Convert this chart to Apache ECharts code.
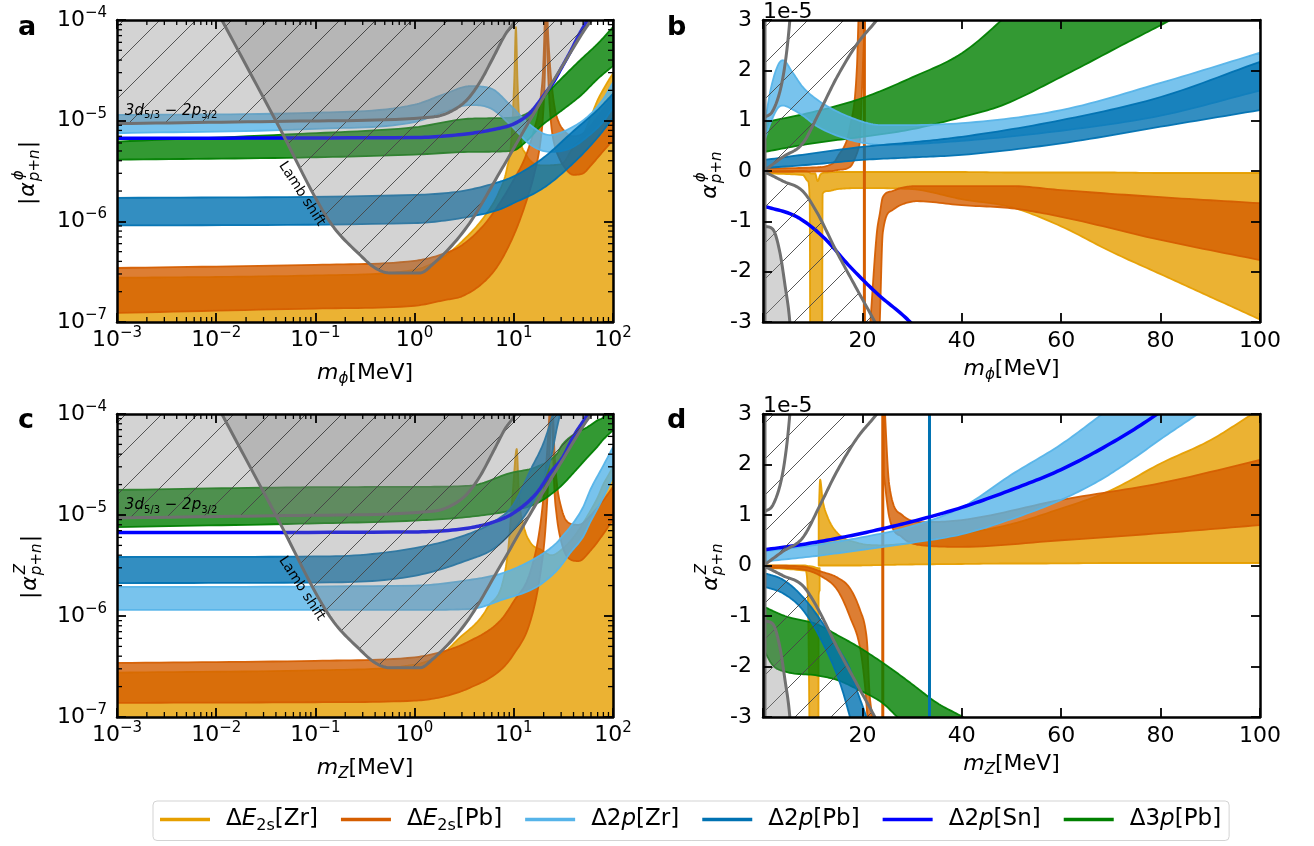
<!DOCTYPE html>
<html><head><meta charset="utf-8">
<script src="https://cdn.jsdelivr.net/npm/echarts@6/dist/echarts.min.js"></script>
<style>html,body{margin:0;padding:0;background:#fff}#c{width:1314px;height:846px}</style>
</head><body><div id="c"></div>
<script>
// ---------------- DATA ----------------
// Panel a : |alpha^phi| (log-log), [m (MeV), lower, upper]
const A_E2sZr = [[0.001,1e-9,2.75e-7],[0.01,1e-9,2.8e-7],[0.1,1e-9,2.9e-7],[1,1e-9,3.3e-7],[2,1e-9,4.5e-7],[3,1e-9,6.3e-7],[5,1e-9,1.1e-6],[7,1e-9,1.9e-6],[8.5,1e-9,3.3e-6],[9.5,1e-9,7e-6],[10.1,1e-9,2.5e-5],[10.5,1e-9,8.5e-5],[10.9,1e-9,2.5e-5],[11.5,1e-9,8e-6],[13,1e-9,4.8e-6],[20,1e-9,3.6e-6],[30,1e-9,3.7e-6],[40,1e-9,5.5e-6],[50,1e-9,7.2e-6],[60,1e-9,1.1e-5],[70,1e-9,1.6e-5],[80,1e-9,2.05e-5],[90,1e-9,2.5e-5],[100,1e-9,2.95e-5]];
const A_E2sPb_1 = [[0.001,1.23e-7,3.44e-7],[0.1,1.36e-7,3.7e-7],[1,1.45e-7,4.05e-7],[2,1.65e-7,4.8e-7],[3,1.8e-7,5.8e-7],[5,2.5e-7,9.2e-7],[7,3.7e-7,1.45e-6],[10,7.3e-7,2.6e-6],[13,1.45e-6,4.3e-6],[16,2.9e-6,8.1e-6],[18.5,6e-6,1.6e-5],[19.8,1.2e-5,3.5e-5],[20.6,3e-5,1.2e-4],[21,8e-5,3e-4]];
const A_E2sPb_2 = [[21.3,9e-5,3e-4],[22,3.5e-5,9e-5],[23,1.4e-5,4e-5],[24,8.5e-6,2.4e-5],[26,5.5e-6,1.3e-5],[28,4.5e-6,1e-5],[32,3.5e-6,8e-6],[40,2.9e-6,7e-6],[50,3.0e-6,7.5e-6],[60,3.6e-6,9e-6],[80,5.0e-6,1.3e-5],[100,6.4e-6,1.77e-5]];
const A_2pZr = [[0.001,7.5e-6,1.14e-5],[0.1,8.3e-6,1.2e-5],[1,9.7e-6,1.44e-5],[2,1.22e-5,1.84e-5],[3.6,1.43e-5,2.2e-5],[5.8,1.33e-5,2.1e-5],[9.2,9.1e-6,1.43e-5],[14.6,5.8e-6,9.1e-6],[23,4.9e-6,7.2e-6],[37,5.3e-6,8.4e-6],[58,7.2e-6,1.14e-5],[80,9.8e-6,1.65e-5],[100,1.35e-5,2.4e-5]];
const A_2pPb = [[0.001,9.1e-7,1.71e-6],[1,9.6e-7,1.83e-6],[3,1.08e-6,2.0e-6],[7,1.3e-6,2.45e-6],[10,1.52e-6,2.8e-6],[20,2.15e-6,4.3e-6],[40,3.8e-6,7.9e-6],[70,6.8e-6,1.28e-5],[100,1.07e-5,1.85e-5]];
const A_2pSn = [[0.001,6.7e-6],[1,6.8e-6],[3,7.3e-6],[6,8.1e-6],[10,9.3e-6],[14,1.15e-5],[17,1.43e-5],[21,1.9e-5],[25,2.4e-5],[30,3.3e-5],[37,4.8e-5],[45,7e-5],[55,1e-4],[65,1.4e-4]];
const A_3pPb = [[0.001,4.1e-6,6.2e-6],[0.07,4.3e-6,7.4e-6],[1,4.6e-6,8.6e-6],[3.8,4.9e-6,1.05e-5],[9.5,5.0e-6,1.07e-5],[14,6.5e-6,1.2e-5],[18,8.5e-6,1.5e-5],[22,1.0e-5,1.9e-5],[30,1.25e-5,2.6e-5],[48,1.8e-5,4.1e-5],[70,2.6e-5,5.8e-5],[100,3.5e-5,8.5e-5]];

// Panel c : |alpha^Z| (log-log)
const C_E2sZr = [[0.001,1e-9,2.75e-7],[0.1,1e-9,2.9e-7],[1,1e-9,3.3e-7],[2,1e-9,4.4e-7],[2.7,1e-9,5.8e-7],[5.4,1e-9,1.2e-6],[8.6,1e-9,3.8e-6],[9.8,1e-9,1.77e-5],[10.7,1e-9,4.5e-5],[11.3,1e-9,1.5e-5],[12.5,1e-9,8e-6],[14.6,1e-9,5.4e-6],[19,1e-9,4.5e-6],[24,1e-9,4.0e-6],[30,1e-9,4.5e-6],[40,1e-9,6e-6],[57,1e-9,1.03e-5],[70,1e-9,1.49e-5],[80,1e-9,2.02e-5],[90,1e-9,2.48e-5],[100,1e-9,3.0e-5]];
const C_E2sPb_1 = [[0.001,1.38e-7,3.43e-7],[0.1,1.4e-7,3.6e-7],[1,1.45e-7,3.9e-7],[2,1.6e-7,4.5e-7],[3.4,1.9e-7,5.5e-7],[7.3,2.9e-7,9e-7],[10,4.2e-7,1.4e-6],[14.6,8.7e-7,2.7e-6],[18.5,2.6e-6,8e-6],[21,8e-6,2.8e-5],[23,4.6e-5,1.2e-4],[23.8,1.2e-4,3e-4]];
const C_E2sPb_2 = [[24.2,1.2e-4,3e-4],[24.8,5e-5,1.2e-4],[25.5,2.0e-5,5e-5],[27,1.0e-5,2.2e-5],[30,5.5e-6,1.2e-5],[35,3.8e-6,8.5e-6],[45,3.5e-6,8e-6],[60,4.5e-6,1.0e-5],[80,6.5e-6,1.4e-5],[100,9e-6,1.9e-5]];
const C_2pZr = [[0.001,1.15e-6,1.94e-6],[1,1.15e-6,2.0e-6],[3.6,1.17e-6,2.28e-6],[7.7,1.45e-6,2.66e-6],[17,1.94e-6,3.8e-6],[27,2.8e-6,5.3e-6],[31,3.3e-6,6.2e-6],[37,4.2e-6,7.6e-6],[50,6.1e-6,1.2e-5],[59,8.5e-6,1.77e-5],[80,1.5e-5,3.1e-5],[100,2.4e-5,4.7e-5]];
const C_2pPb = [[0.001,2.12e-6,3.84e-6],[0.14,2.15e-6,3.9e-6],[1,2.5e-6,4.7e-6],[3.5,3.6e-6,6.5e-6],[6.2,4.6e-6,8.5e-6],[9.8,7e-6,1.25e-5],[15,1.25e-5,2.9e-5],[20,2.3e-5,5.2e-5],[24,3.9e-5,9e-5],[27,7e-5,1.4e-4],[30,1.1e-4,1.7e-4]];
const C_2pSn = [[0.001,6.7e-6],[1,6.8e-6],[3.4,7.4e-6],[6.2,8.5e-6],[10,1.05e-5],[17,1.65e-5],[24,2.7e-5],[31,3.7e-5],[40,6e-5],[57,1.05e-4],[65,1.4e-4]];
const C_3pPb = [[0.001,7.6e-6,1.77e-5],[0.07,8.2e-6,1.88e-5],[1,8.8e-6,1.9e-5],[3.6,9.6e-6,1.95e-5],[9.2,1.1e-5,2.6e-5],[17,1.3e-5,3.0e-5],[27,1.77e-5,4.0e-5],[31,2.0e-5,5.0e-5],[42.6,2.8e-5,6.5e-5],[55,3.7e-5,7.4e-5],[69,4.7e-5,8.6e-5],[80,5.6e-5,9.3e-5],[100,6.9e-5,1.3e-4]];

// Panel b : alpha^phi in units of 1e-5 (linear)
const B_E2sZr = [[0.3,-0.05,0.0],[8,-0.08,0.0],[9.0,-0.2,-0.01],[9.4,-0.6,-0.03],[9.6,-8,-0.05],[10.5,-8,-0.05],[11.0,-8,-0.2],[11.5,-8,-0.08],[11.8,-8,-0.05],[12.0,-0.45,-0.04],[13,-0.4,-0.03],[15,-0.36,-0.02],[20,-0.34,-0.02],[30,-0.36,-0.02],[40,-0.56,-0.02],[50,-0.72,-0.03],[60,-1.1,-0.03],[70,-1.6,-0.03],[80,-2.05,-0.04],[90,-2.5,-0.04],[100,-2.95,-0.04]];
const B_E2sPb_1 = [[0.3,-0.02,0.05],[10,-0.01,0.07],[14,0.0,0.15],[15,0.02,0.28],[17.5,0.08,0.88],[18.9,0.35,2.07],[19.2,0.45,3.0],[19.5,0.62,3.6],[20.1,2.07,4.5],[20.5,3.0,5]];
const B_E2sPb_2 = [[21.6,-5,-3.0],[22.9,-4.5,-1.23],[23.5,-3.0,-0.85],[24.1,-1.23,-0.52],[26,-0.78,-0.4],[27.6,-0.68,-0.34],[31,-0.6,-0.3],[40,-0.68,-0.3],[50,-0.74,-0.3],[60,-0.91,-0.38],[80,-1.37,-0.52],[100,-1.77,-0.64]];
const B_E2sPb_pole = [20.4];
const B_2pZr = [[0.3,0.6,0.9],[1.5,0.95,1.6],[3,1.25,2.1],[4,1.3,2.2],[6,1.22,1.95],[8,1.1,1.67],[11,0.88,1.41],[17.5,0.62,1.07],[24,0.52,0.91],[40,0.6,0.95],[60,0.8,1.21],[80,1.1,1.75],[100,1.6,2.35]];
const B_2pPb = [[0.3,0.06,0.22],[10,0.13,0.35],[20,0.22,0.48],[30,0.27,0.57],[40,0.32,0.68],[60,0.55,1.01],[80,0.88,1.47],[100,1.21,2.17]];
const B_2pSn = [[0.3,-0.7],[6.8,-0.91],[12.1,-1.31],[17.5,-1.9],[22.9,-2.43],[29.6,-3.0],[33,-3.4]];
const B_3pPb = [[0.3,0.38,0.97],[10,0.55,1.17],[20,0.68,1.45],[30,0.83,1.86],[40,1.07,2.34],[48,1.3,3.0],[60,1.87,4.2],[73,2.54,5.5],[82,3.0,6.5],[100,4.0,8.0]];

// Panel d : alpha^Z in units of 1e-5 (linear)
const D_E2sZr_1 = [[0.3,-0.05,0.0],[8.5,-0.1,0.0],[9.0,-0.5,-0.01],[9.9,-8,-0.02],[11.1,-8,-0.05],[11.2,-0.6,-0.05],[11.4,-0.5,-0.05]];
const D_E2sZr_2 = [[11.2,0.0,1.0],[11.5,0.0,1.7],[12,0.0,1.3],[13,0.0,0.96],[15,0.0,0.64],[19,0.0,0.45],[24,0.01,0.4],[30,0.02,0.45],[40,0.03,0.62],[50,0.04,0.82],[57,0.04,1.03],[70,0.05,1.49],[80,0.05,2.02],[90,0.05,2.48],[97.5,0.05,2.94],[100,0.05,3.1]];
const D_E2sPb_1 = [[0.3,-0.04,0.0],[8,-0.08,-0.02],[12,-0.23,-0.13],[15,-0.49,-0.24],[17.5,-1.02,-0.45],[19.6,-1.67,-0.9],[20.6,-2.47,-1.25],[21.0,-3.0,-1.6],[21.4,-3.6,-2.47],[22,-4.5,-3.0]];
const D_E2sPb_2 = [[24.3,1.8,3.5],[25.4,0.96,1.6],[28,0.56,1.0],[32,0.4,0.86],[40,0.37,0.9],[60,0.5,1.3],[80,0.64,1.63],[100,0.8,2.09]];
const D_E2sPb_pole = [24.1];
const D_2pZr = [[0.3,0.08,0.28],[10,0.18,0.4],[20,0.31,0.56],[30,0.45,0.78],[40,0.62,1.15],[50,0.92,1.8],[60,1.3,2.4],[68,1.7,2.98],[75,2.15,3.5],[80,2.5,3.9],[86.6,2.94,4.4],[95,3.5,5.2]];
const D_2pPb = [[0.3,-0.42,-0.15],[4,-0.55,-0.28],[8,-0.88,-0.62],[12,-1.53,-1.14],[15.5,-2.33,-1.7],[17.5,-3.0,-2.05],[18.9,-3.5,-2.47],[20.8,-4.2,-3.0],[22,-4.6,-3.4]];
const D_2pPb_pole = [33.5];
const D_2pSn = [[0.3,0.31],[10,0.45],[20,0.64],[30,0.87],[40,1.15],[50,1.5],[60,1.9],[70,2.42],[79.3,3.0],[85,3.45]];
const D_3pPb = [[0.3,-1.7,-0.82],[2,-1.98,-0.9],[4.4,-2.1,-1.0],[11,-2.18,-1.17],[15,-2.27,-1.38],[19,-2.45,-1.6],[24,-2.72,-1.92],[27,-3.0,-2.13],[30,-3.3,-2.35],[35,-3.8,-2.72],[41,-4.3,-3.05],[45,-4.8,-3.35]];

// Exclusion bounds
const LOG_BOUND_3D = [[0.001,9.35e-6],[0.07,9.9e-6],[1.53,1.09e-5],[2.27,1.22e-5],[3.37,1.61e-5],[4.56,2.42e-5],[6.17,4.2e-5],[8.15,7.1e-5],[10.3,1e-4],[11,1.2e-4]];
const LOG_BOUND_LAMB = [[0.0114,1e-4],[0.04,9.93e-6],[0.14,9.86e-7],[0.282,4.63e-7],[0.40,3.44e-7],[0.565,3.07e-7],[1.13,3.07e-7],[1.50,3.69e-7],[3.37,8.8e-7],[7.26,3.09e-6],[14.6,1.02e-5],[29.2,3.18e-5],[58.6,9.55e-5],[61,1e-4]];
const LIN_BOUND_L0 = [[0.4,-3.3],[0.4,3.3]];
const LIN_BOUND_L1 = [[0.4,1.07],[2,1.2],[3.8,1.75],[4.8,2.4],[5.4,3.0],[5.7,3.4]];
const LIN_BOUND_L2 = [[0.4,0.02],[4,0.28],[8,0.55],[11.5,1.2],[14.8,1.85],[18.9,2.52],[22.9,3.0],[24,3.15]];
const LIN_BOUND_L3 = [[0.4,-0.02],[4,-0.2],[8,-0.4],[10.9,-0.83],[14.9,-1.62],[18.9,-2.35],[22.5,-3.0],[23.5,-3.2]];
const LIN_BOUND_L4 = [[0.4,-1.1],[2,-1.16],[3.4,-1.62],[4.4,-2.25],[5.4,-3.0],[5.6,-3.3]];

// Annotation anchors (data coords, log panels)
const LABEL_3D = [1.2e-3, 1.24e-5];
const LABEL_LAMB = [0.073, 1.87e-6];

// Tick values
const LOG_X_DECADES = [1e-3,1e-2,1e-1,1,10,100];
const LOG_Y_DECADES = [1e-7,1e-6,1e-5,1e-4];
const LIN_X_TICKS = [0,20,40,60,80,100];
const LIN_Y_TICKS = [-3,-2,-1,0,1,2,3];

const SERIES_INFO = {
  E2sZr:{name:'ΔE2s[Zr]', color:'#E69F00'},
  E2sPb:{name:'ΔE2s[Pb]', color:'#D55E00'},
  p2Zr:{name:'Δ2p[Zr]', color:'#56B4E9'},
  p2Pb:{name:'Δ2p[Pb]', color:'#0072B2'},
  p2Sn:{name:'Δ2p[Sn]', color:'#0000FF'},
  p3Pb:{name:'Δ3p[Pb]', color:'#008000'}
};

// ---------------- RENDERING ----------------
const FONT = 'DejaVu Sans';
const GRAY_FILL = 'rgba(128,128,128,0.35)';
const GRAY_LINE = '#707070';

function rgba(hex,a){const n=parseInt(hex.slice(1),16);return 'rgba('+((n>>16)&255)+','+((n>>8)&255)+','+(n&255)+','+a+')';}

function makeHatch(sp){
  const c=document.createElement('canvas');c.width=sp;c.height=sp;
  const g=c.getContext('2d');g.strokeStyle='rgba(70,70,70,0.9)';g.lineWidth=1;
  g.beginPath();g.moveTo(-2,sp+2);g.lineTo(sp+2,-2);
  g.moveTo(-2,2);g.lineTo(2,-2);g.moveTo(sp-2,sp+2);g.lineTo(sp+2,sp-2);g.stroke();
  return c;
}
const HATCH = {image: makeHatch(36), repeat:'repeat'};

// monotone cubic interpolation in pixel space (rendering only)
function smoothPx(pts){
  const n=pts.length; if(n<3) return pts.slice();
  const xs=pts.map(p=>p[0]), ys=pts.map(p=>p[1]);
  const d=[], m=new Array(n);
  for(let i=0;i<n-1;i++) d.push((ys[i+1]-ys[i])/(xs[i+1]-xs[i]));
  m[0]=d[0]; m[n-1]=d[n-2];
  for(let i=1;i<n-1;i++) m[i]=(d[i-1]*d[i]<=0)?0:(d[i-1]+d[i])/2;
  for(let i=0;i<n-1;i++){
    if(d[i]===0){m[i]=0;m[i+1]=0;continue;}
    const a=m[i]/d[i], b=m[i+1]/d[i], s=a*a+b*b;
    if(s>9){const t=3/Math.sqrt(s);m[i]=t*a*d[i];m[i+1]=t*b*d[i];}
  }
  const out=[];
  for(let i=0;i<n-1;i++){
    const h=xs[i+1]-xs[i], N=14;
    for(let k=0;k<N;k++){
      const t=k/N,t2=t*t,t3=t2*t;
      out.push([xs[i]+t*h,(2*t3-3*t2+1)*ys[i]+(t3-2*t2+t)*h*m[i]+(-2*t3+3*t2)*ys[i+1]+(t3-t2)*h*m[i+1]]);
    }
  }
  out.push([xs[n-1],ys[n-1]]);
  return out;
}

const series=[];
function band(gi,data,key,z){
  const info=SERIES_INFO[key];
  series.push({type:'custom',name:info.name,xAxisIndex:gi*2,yAxisIndex:gi*2,clip:true,z:z,silent:true,
    itemStyle:{color:info.color},data:data,
    renderItem:function(params,api){
      if(params.dataIndex!==0) return null;
      const hi=smoothPx(data.map(p=>api.coord([p[0],p[2]])));
      const lo=smoothPx(data.map(p=>api.coord([p[0],p[1]]))).reverse();
      return {type:'polygon',shape:{points:hi.concat(lo)},style:{fill:rgba(info.color,0.8),stroke:rgba(info.color,0.95),lineWidth:1.8,lineJoin:'round'}};
    }});
}
function curve(gi,data,color,width,z,name){
  const s={type:'custom',xAxisIndex:gi*2,yAxisIndex:gi*2,clip:true,z:z,silent:true,data:data,
    itemStyle:{color:color},
    renderItem:function(params,api){
      if(params.dataIndex!==0) return null;
      return {type:'polyline',shape:{points:smoothPx(data.map(p=>api.coord(p)))},style:{stroke:color,lineWidth:width,fill:'none',lineJoin:'round'}};
    }};
  if(name) s.name=name;
  series.push(s);
}
function pole(gi,xs,color,z){
  series.push({type:'custom',xAxisIndex:gi*2,yAxisIndex:gi*2,clip:true,z:z,silent:true,data:xs.map(x=>[x,0]),
    renderItem:function(params,api){
      const x=api.value(0);const a=api.coord([x,-3.5]),b=api.coord([x,3.5]);
      return {type:'line',shape:{x1:a[0],y1:a[1],x2:b[0],y2:b[1]},style:{stroke:color,lineWidth:3}};
    }});
}
function region(gi,data,closing,fill,hatch,z){
  series.push({type:'custom',xAxisIndex:gi*2,yAxisIndex:gi*2,clip:true,z:z,silent:true,data:data,
    renderItem:function(params,api){
      if(params.dataIndex!==0) return null;
      const pts=smoothPx(data.map(p=>api.coord(p))).concat(closing.map(p=>api.coord(p)));
      const ch=[];
      if(fill) ch.push({type:'polygon',shape:{points:pts},style:{fill:fill}});
      if(hatch) ch.push({type:'polygon',shape:{points:pts},style:{fill:HATCH}});
      return {type:'group',children:ch};
    }});
}
function logLabels(gi){
  series.push({type:'custom',xAxisIndex:gi*2,yAxisIndex:gi*2,clip:false,z:7,silent:true,data:[LABEL_3D],
    renderItem:function(params,api){
      const p=api.coord(LABEL_3D), q=api.coord(LABEL_LAMB);
      return {type:'group',children:[
        {type:'text',x:p[0],y:p[1],style:{text:'{i|3d}{s|5/3} − {i|2p}{s|3/2}',fontSize:15,fontFamily:FONT,fill:'#000',align:'left',verticalAlign:'middle',
          rich:{i:{fontSize:15,fontStyle:'italic',fontFamily:FONT},s:{fontSize:10,fontFamily:FONT,padding:[9,0,0,0]}}}},
        {type:'text',x:q[0],y:q[1],rotation:-57*Math.PI/180,style:{text:'Lamb shift',fontSize:14,fontFamily:FONT,fill:'#000',align:'center',verticalAlign:'middle'}}
      ]};
    }});
}
function minorTicks(gi){
  series.push({type:'custom',xAxisIndex:gi*2,yAxisIndex:gi*2,clip:false,z:11,silent:true,data:[[1,1e-6]],
    renderItem:function(params,api){
      const cs=params.coordSys, ch=[];
      const L=(a,b,c,d)=>({type:'line',shape:{x1:a,y1:b,x2:c,y2:d},style:{stroke:'#000',lineWidth:1.3}});
      const x0=cs.x,x1=cs.x+cs.width,y0=cs.y,y1=cs.y+cs.height;
      for(let i=0;i<LOG_X_DECADES.length-1;i++) for(let m=2;m<10;m++){
        const px=api.coord([m*LOG_X_DECADES[i],LOG_Y_DECADES[0]])[0];
        ch.push(L(px,y1,px,y1-5));ch.push(L(px,y0,px,y0+5));
      }
      for(let i=0;i<LOG_Y_DECADES.length-1;i++) for(let m=2;m<10;m++){
        const py=api.coord([LOG_X_DECADES[0],m*LOG_Y_DECADES[i]])[1];
        ch.push(L(x0,py,x0+5,py));ch.push(L(x1,py,x1-5,py));
      }
      return {type:'group',children:ch};
    }});
}

// panel a (grid 0)
band(0,A_E2sZr,'E2sZr',2); band(0,A_E2sPb_1,'E2sPb',2); band(0,A_E2sPb_2,'E2sPb',2);
band(0,A_3pPb,'p3Pb',2); band(0,A_2pZr,'p2Zr',2); band(0,A_2pPb,'p2Pb',2);
curve(0,A_2pSn,SERIES_INFO.p2Sn.color,3.5,3,SERIES_INFO.p2Sn.name);
// panel c (grid 2)
band(2,C_E2sZr,'E2sZr',2); band(2,C_E2sPb_1,'E2sPb',2); band(2,C_E2sPb_2,'E2sPb',2);
band(2,C_3pPb,'p3Pb',2); band(2,C_2pZr,'p2Zr',2); band(2,C_2pPb,'p2Pb',2);
curve(2,C_2pSn,SERIES_INFO.p2Sn.color,3.5,3,SERIES_INFO.p2Sn.name);
[0,2].forEach(gi=>{
  const l3=LOG_BOUND_3D, lb=LOG_BOUND_LAMB;
  region(gi,l3,[[l3[l3.length-1][0],1e-2],[l3[0][0]/2,1e-2],[l3[0][0]/2,l3[0][1]]],GRAY_FILL,true,4);
  region(gi,lb,[[lb[lb.length-1][0],1e-2],[lb[0][0],1e-2]],GRAY_FILL,true,4);
  curve(gi,l3,GRAY_LINE,3,6); curve(gi,lb,GRAY_LINE,3,6);
  logLabels(gi); minorTicks(gi);
});
// panel b (grid 1)
band(1,B_E2sZr,'E2sZr',2); band(1,B_E2sPb_1,'E2sPb',2); band(1,B_E2sPb_2,'E2sPb',2);
pole(1,B_E2sPb_pole,SERIES_INFO.E2sPb.color,2);
band(1,B_3pPb,'p3Pb',2); band(1,B_2pZr,'p2Zr',2); band(1,B_2pPb,'p2Pb',2);
curve(1,B_2pSn,SERIES_INFO.p2Sn.color,3.5,3);
// panel d (grid 3)
band(3,D_E2sZr_1,'E2sZr',2); band(3,D_E2sZr_2,'E2sZr',2); band(3,D_E2sPb_1,'E2sPb',2); band(3,D_E2sPb_2,'E2sPb',2);
pole(3,D_E2sPb_pole,SERIES_INFO.E2sPb.color,2);
band(3,D_3pPb,'p3Pb',2); band(3,D_2pZr,'p2Zr',2); band(3,D_2pPb,'p2Pb',2);
pole(3,D_2pPb_pole,SERIES_INFO.p2Pb.color,2);
curve(3,D_2pSn,SERIES_INFO.p2Sn.color,3.5,3);
[1,3].forEach(gi=>{
  const l2=LIN_BOUND_L2,l3=LIN_BOUND_L3,l4=LIN_BOUND_L4;
  region(gi,l2,[[l2[l2.length-1][0],6],[0,6],[0,l2[0][1]]],null,true,4);
  region(gi,l3,[[l3[l3.length-1][0],-6],[0,-6],[0,l3[0][1]]],null,true,4);
  region(gi,l4,[[l4[l4.length-1][0],-6],[0,-6],[0,l4[0][1]]],GRAY_FILL,false,4);
  [LIN_BOUND_L0,LIN_BOUND_L1,l2,l3,l4].forEach(b=>curve(gi,b,GRAY_LINE,3,6));
});

// axes
const GRIDS=[{left:117,top:20,width:496,height:302},{left:763,top:20,width:497,height:302},{left:117,top:414,width:496,height:303},{left:763,top:414,width:497,height:303}];
const isLog=[true,false,true,false];
const axisLineS={show:true,onZero:false,lineStyle:{color:'#000',width:2.5}};
const tickS={show:true,inside:true,length:9,lineStyle:{color:'#000',width:1.8}};
const logRich={b:{fontSize:22,fontFamily:FONT,color:'#000'},s:{fontSize:15,fontFamily:FONT,color:'#000',padding:[0,0,14,0]}};
function logFmt(v){const e=Math.round(Math.log10(v));return '{b|10}{s|'+(e<0?'\u2212':'')+Math.abs(e)+'}';}
const xNames=['{i|m}{s|ϕ}[MeV]','{i|m}{s|ϕ}[MeV]','{i|m}{s|Z}[MeV]','{i|m}{s|Z}[MeV]'];
const nameRich={i:{fontSize:22,fontStyle:'italic',fontFamily:FONT,color:'#000'},s:{fontSize:15,fontStyle:'italic',fontFamily:FONT,color:'#000',padding:[12,0,0,0]}};
const xAxis=[],yAxis=[];
GRIDS.forEach((g,gi)=>{
  const lg=isLog[gi];
  const xb=lg?{type:'log',logBase:10,min:LOG_X_DECADES[0],max:LOG_X_DECADES[LOG_X_DECADES.length-1]}:{type:'value',min:LIN_X_TICKS[0],max:LIN_X_TICKS[LIN_X_TICKS.length-1],interval:20};
  const yb=lg?{type:'log',logBase:10,min:LOG_Y_DECADES[0],max:LOG_Y_DECADES[LOG_Y_DECADES.length-1]}:{type:'value',min:LIN_Y_TICKS[0],max:LIN_Y_TICKS[LIN_Y_TICKS.length-1],interval:1};
  xAxis.push(Object.assign({},xb,{gridIndex:gi,position:'bottom',z:10,axisLine:axisLineS,axisTick:tickS,splitLine:{show:false},
    axisLabel:lg?{formatter:logFmt,rich:logRich,margin:4,color:'#000'}:{formatter:v=>v===0?'':String(v),fontSize:22,fontFamily:FONT,color:'#000',margin:8},
    name:xNames[gi],nameLocation:'middle',nameGap:lg?38:34,nameTextStyle:{fontSize:22,fontFamily:FONT,color:'#000',rich:nameRich}}));
  xAxis.push(Object.assign({},xb,{gridIndex:gi,position:'top',z:10,axisLine:axisLineS,axisTick:tickS,splitLine:{show:false},axisLabel:{show:false}}));
  const yl=Object.assign({},yb,{gridIndex:gi,position:'left',z:10,axisLine:axisLineS,axisTick:tickS,splitLine:{show:false},
    axisLabel:lg?{formatter:logFmt,rich:logRich,margin:10,color:'#000'}:{formatter:v=>String(v),fontSize:22,fontFamily:FONT,color:'#000',margin:11}});
  if(!lg){yl.name='1e-5';yl.nameLocation='end';yl.nameGap=0;yl.nameTextStyle={fontSize:22,fontFamily:FONT,color:'#000',align:'left',verticalAlign:'bottom',padding:[0,0,-3,0]};}
  yAxis.push(yl);
  yAxis.push(Object.assign({},yb,{gridIndex:gi,position:'right',z:10,axisLine:axisLineS,axisTick:tickS,splitLine:{show:false},axisLabel:{show:false}}));
});

// rotated y-axis titles & panel letters
function yName(cx,cy,supText,pipes){
  const fs=22, ss=15; const ch=[];
  const base={fill:'#000',fontFamily:FONT,verticalAlign:'middle',align:'left'};
  const wPipe=7.4,wA=14.5,wP=9.6,wPlus=12.6,wN=9.6;
  const L=(pipes?2*wPipe+2:0)+wA+1+wP+wPlus+wN;
  let x=-L/2;
  if(pipes){ch.push({type:'text',x:x,y:0,style:Object.assign({text:'|',fontSize:fs},base)});x+=wPipe+1;}
  ch.push({type:'text',x:x,y:0,style:Object.assign({text:'α',fontSize:fs,fontStyle:'italic'},base)});x+=wA+1;
  ch.push({type:'text',x:x+1,y:-9,style:Object.assign({text:supText,fontSize:ss,fontStyle:'italic'},base)});
  ch.push({type:'text',x:x,y:7,style:Object.assign({text:'p',fontSize:ss,fontStyle:'italic'},base)});
  ch.push({type:'text',x:x+wP,y:7,style:Object.assign({text:'+',fontSize:ss},base)});
  ch.push({type:'text',x:x+wP+wPlus,y:7,style:Object.assign({text:'n',fontSize:ss,fontStyle:'italic'},base)});
  x+=wP+wPlus+wN;
  if(pipes){x+=1;ch.push({type:'text',x:x,y:0,style:Object.assign({text:'|',fontSize:fs},base)});}
  return {type:'group',x:cx,y:cy,rotation:Math.PI/2,children:ch};
}
function letter(t,x,y){return {type:'text',x:x,y:y,style:{text:t,fontSize:27,fontWeight:'bold',fontFamily:FONT,fill:'#000',align:'left',verticalAlign:'middle'}};}
const graphic=[
  yName(28.5,173,'ϕ',true), yName(710,175,'ϕ',false), yName(30,567,'Z',true), yName(711,567,'Z',false),
  letter('a',18,28), letter('b',667,28), letter('c',18,421), letter('d',667,421)
];

const legendRich={i:{fontSize:23,fontStyle:'italic',fontFamily:FONT,color:'#000'},sub:{fontSize:16,fontFamily:FONT,color:'#000',padding:[12,0,0,0]},g:{width:11}};
const legendFmt={'ΔE2s[Zr]':'{g| }Δ{i|E}{sub|2s}[Zr]','ΔE2s[Pb]':'{g| }Δ{i|E}{sub|2s}[Pb]','Δ2p[Zr]':'{g| }Δ2{i|p}[Zr]','Δ2p[Pb]':'{g| }Δ2{i|p}[Pb]','Δ2p[Sn]':'{g| }Δ2{i|p}[Sn]','Δ3p[Pb]':'{g| }Δ3{i|p}[Pb]'};

const option={
  animation:false,
  textStyle:{fontFamily:FONT},
  grid:GRIDS.map(g=>Object.assign({containLabel:false},g)),
  xAxis:xAxis, yAxis:yAxis,
  legend:{left:153,top:801,orient:'horizontal',itemWidth:50,itemHeight:3.5,itemGap:23,padding:[7,8,7,7],
    borderColor:'#d3d3d3',borderWidth:1,borderRadius:4,backgroundColor:'#fff',selectedMode:false,icon:'rect',
    textStyle:{fontSize:23,fontFamily:FONT,color:'#000',rich:legendRich},
    formatter:n=>legendFmt[n]||n,
    data:Object.keys(SERIES_INFO).map(k=>({name:SERIES_INFO[k].name,icon:'rect',itemStyle:{color:SERIES_INFO[k].color}}))},
  graphic:graphic,
  series:series
};
const chart=echarts.init(document.getElementById('c'),null,{renderer:'canvas',width:1314,height:846});
chart.setOption(option);
</script></body></html>
